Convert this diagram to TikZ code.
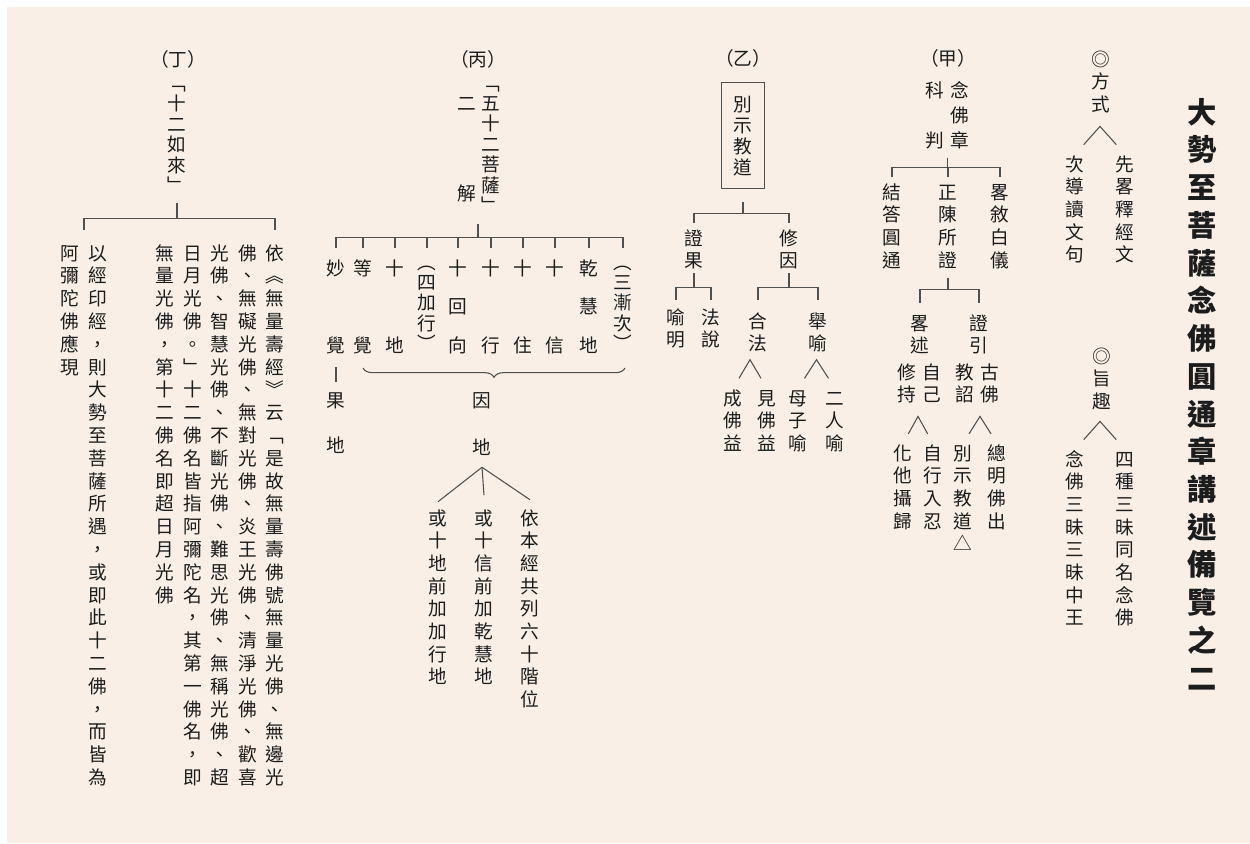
\documentclass[tikz,border=0pt]{standalone}
\usepackage{fontspec}
\newfontfamily\cjk{Noto Sans CJK TC}
\usepackage{tikz}
\usetikzlibrary{calc,decorations.pathreplacing}
\definecolor{papier}{RGB}{249,239,230}
\definecolor{encre}{RGB}{28,28,28}
\definecolor{trait}{RGB}{80,80,80}
% one vertical column of characters, ~ leaves an empty row
\def\vcolEnd{\vcolEnd}
\def\vcolA#1{\ifx#1\vcolEnd\else\hbox to1em{\hss\vrule height.88em depth.12em width0pt#1\hss}\expandafter\vcolA\fi}
\newcommand\vcol[2][17pt]{\vtop{\baselineskip=#1\lineskip=0pt\lineskiplimit=-\maxdimen\vcolA#2\vcolEnd}}
\tikzset{
  vtxt/.style={inner sep=0pt,anchor=base,yshift=-5.32pt,text=encre,font=\cjk\fontsize{14}{17}\selectfont},
  ttl/.style={inner sep=0pt,anchor=base,yshift=-8.36pt,text=encre,font=\cjk\bfseries\fontsize{22}{28}\selectfont},
  lnk/.style={draw=trait,line width=0.8pt},
  boxd/.style={vtxt,draw=trait,line width=0.8pt,inner xsep=9.1pt,inner ysep=9pt},
  brc/.style={lnk,decorate,decoration={brace,mirror,amplitude=7pt}}
}
\begin{document}
\begin{tikzpicture}[x=0.75pt,y=-0.75pt]
\fill[white] (0,0) rectangle (1250,843);
\fill[papier] (7,7) rectangle (1250,843);
\useasboundingbox (0,0) rectangle (1250,843);

% title
\node[ttl] (tl) at (1202,112) {\vcol[28.3pt]{大勢至菩薩念佛圓通章講述備覽之二}};

% fangshi / zhiqu
\node[vtxt] (fs) at (1101,59) {\vcol{◎方式}};
\node[vtxt] (cd) at (1075,164) {\vcol{次導讀文句}};
\node[vtxt] (xl) at (1125,164) {\vcol{先畧釋經文}};
\coordinate (fsp) at ($(cd.north)!0.5!(xl.north)+(0,-28)$);
\draw[lnk] ($(fsp)!0.65!(cd.north)$) -- (fsp) -- ($(fsp)!0.65!(xl.north)$);
\node[vtxt] (zq) at (1102,356) {\vcol{◎旨趣}};
\node[vtxt] (nf) at (1075,459) {\vcol{念佛三昧三昧中王}};
\node[vtxt] (sz) at (1125,459) {\vcol{四種三昧同名念佛}};
\coordinate (zqp) at ($(nf.north)!0.5!(sz.north)+(0,-28)$);
\draw[lnk] ($(zqp)!0.65!(nf.north)$) -- (zqp) -- ($(zqp)!0.65!(sz.north)$);

% jia
\node[vtxt] (jia) at (948,58) {（甲）};
\node[vtxt] (jk) at (947.5,90) {\vcol[18.75pt]{科~判}\hspace{4.7pt}\vcol[18.75pt]{念佛章}};
\node[vtxt] (jd) at (892,192) {\vcol{結答圓通}};
\node[vtxt] (zc) at (948,192) {\vcol{正陳所證}};
\node[vtxt] (lx) at (1000,192) {\vcol{畧敘白儀}};
\foreach \c in {jd,zc,lx}
  \draw[lnk,shorten >=4.3pt] ([yshift=-6pt]jk.south) -- ++(0,10) -| (\c.north);
\node[vtxt] (lu) at (920,323) {\vcol{畧述}};
\node[vtxt] (zy) at (979,323) {\vcol{證引}};
\foreach \c in {lu,zy}
  \draw[lnk,shorten >=8pt] ([yshift=-6pt]zc.south) -- ++(0,12) -| (\c.north);
\node[vtxt] (lus) at (919.5,372) {\vcol{修持}\hspace{4.7pt}\vcol{自己}};
\node[vtxt] (zys) at (977.5,372) {\vcol{教詔}\hspace{4.7pt}\vcol{古佛}};
\node[vtxt] (ht) at (903,453) {\vcol{化他攝歸}};
\node[vtxt] (zx) at (933,453) {\vcol{自行入忍}};
\node[vtxt] (bs) at (963,453) {\vcol{別示教道△}};
\node[vtxt] (zm) at (997,453) {\vcol{總明佛出}};
\coordinate (lup) at ($(ht.north)!0.5!(zx.north)+(0,-27)$);
\draw[lnk] ($(lup)!0.65!(ht.north)$) -- (lup) -- ($(lup)!0.65!(zx.north)$);
\coordinate (zyp) at ($(bs.north)!0.5!(zm.north)+(0,-27)$);
\draw[lnk] ($(zyp)!0.65!(bs.north)$) -- (zyp) -- ($(zyp)!0.65!(zm.north)$);

% yi
\node[vtxt] (yi) at (743,58) {（乙）};
\node[boxd] (bsjd) at (743,104) {\vcol[15.75pt]{別示教道}};
\node[vtxt] (zg) at (694,238) {\vcol{證果}};
\node[vtxt] (xy) at (789,238) {\vcol{修因}};
\foreach \c in {zg,xy}
  \draw[lnk,shorten >=4.3pt] ([yshift=-10pt]bsjd.south) -- ++(0,11) -| (\c.north);
\node[vtxt] (ym) at (676,317) {\vcol{喻明}};
\node[vtxt] (fsh) at (711,317) {\vcol{法說}};
\node[vtxt] (hf) at (758,321) {\vcol{合法}};
\node[vtxt] (jy) at (818,321) {\vcol{舉喻}};
\foreach \c in {ym,fsh}
  \draw[lnk,shorten >=5.8pt] ([yshift=-2.3pt]zg.south) -- ++(0,14) -| (\c.north);
\foreach \c in {hf,jy}
  \draw[lnk,shorten >=8.8pt] ([yshift=-2.3pt]xy.south) -- ++(0,14) -| (\c.north);
\node[vtxt] (cf) at (733,398) {\vcol{成佛益}};
\node[vtxt] (jf) at (767,398) {\vcol{見佛益}};
\node[vtxt] (mz) at (798,398) {\vcol{母子喻}};
\node[vtxt] (er) at (835,398) {\vcol{二人喻}};
\coordinate (hfp) at ($(cf.north)!0.5!(jf.north)+(0,-28.7)$);
\draw[lnk] ($(hfp)!0.65!(cf.north)$) -- (hfp) -- ($(hfp)!0.65!(jf.north)$);
\coordinate (jyp) at ($(mz.north)!0.5!(er.north)+(0,-28.7)$);
\draw[lnk] ($(jyp)!0.65!(mz.north)$) -- (jyp) -- ($(jyp)!0.65!(er.north)$);

% bing
\node[vtxt] (bing) at (478,59) {（丙）};
\node[vtxt] (wsr) at (491,83) {\vcol[15.3pt]{﹁五十二菩薩﹂}};
\node[vtxt] (ej) at (467,103) {\vcol{二~~~解}};
\coordinate (bst) at (bing |- wsr.south);
\node[vtxt] (mj) at (336,268) {\vcol[28.9pt]{妙~覺}};
\node[vtxt] (dj) at (363,268) {\vcol[28.9pt]{等~覺}};
\node[vtxt] (sd) at (395,268) {\vcol[28.9pt]{十~地}};
\node[vtxt] (sj) at (427,262) {\vcol[15.3pt]{︵四加行︶}};
\node[vtxt] (sh) at (458,268) {\vcol[28.9pt]{十回向}};
\node[vtxt] (sx) at (491,268) {\vcol[28.9pt]{十~行}};
\node[vtxt] (szh) at (523,268) {\vcol[28.9pt]{十~住}};
\node[vtxt] (sxn) at (555,268) {\vcol[28.9pt]{十~信}};
\node[vtxt] (ghd) at (589,268) {\vcol[28.9pt]{乾慧地}};
\node[vtxt] (sjc) at (623,262) {\vcol[15.3pt]{︵三漸次︶}};
\foreach \c/\s in {mj/8pt,dj/8pt,sd/8pt,sj/3.5pt,sh/8pt,sx/8pt,szh/8pt,sxn/8pt,ghd/8pt,sjc/3.5pt}
  \draw[lnk,shorten >=\s] ([yshift=-7pt]bst) -- ++(0,13) -| (\c.north);
\node[vtxt] (gd) at (336,400) {\vcol[33.75pt]{果地}};
\draw[lnk,shorten <=9.5pt,shorten >=6.5pt] (mj.south) -- (gd.north);
\coordinate (brl) at (363,368);
\coordinate (brr) at (625,368);
\draw[brc] (brl) -- (brr);
\node[vtxt] (yd) at (482,400) {\vcol[35.25pt]{因地}};
\coordinate (ydo) at ([yshift=-8pt]yd.south);
\node[vtxt] (hsd) at (438,518) {\vcol{或十地前加加行地}};
\node[vtxt] (hsx) at (484,518) {\vcol{或十信前加乾慧地}};
\node[vtxt] (ybj) at (530,518) {\vcol{依本經共列六十階位}};
\draw[lnk] (ydo) -- ([yshift=5pt]hsd.north);
\draw[lnk] (ydo) -- ([yshift=10pt]hsx.north);
\draw[lnk] (ydo) -- ([yshift=6.5pt]ybj.north);

% ding
\node[vtxt] (ding) at (178,59) {（丁）};
\node[vtxt] (srl) at (177,83) {\vcol[15.4pt]{﹁十二如來﹂}};
\node[vtxt] (yq1) at (275,253) {\vcol[17.1pt]{依︽無量壽經︾云﹁是故無量壽佛號無量光佛、無邊光}};
\node[vtxt] (yq2) at (248,253) {\vcol[17.1pt]{佛、無礙光佛、無對光佛、炎王光佛、清淨光佛、歡喜}};
\node[vtxt] (yq3) at (220,253) {\vcol[17.1pt]{光佛、智慧光佛、不斷光佛、難思光佛、無稱光佛、超}};
\node[vtxt] (yq4) at (193,253) {\vcol[17.1pt]{日月光佛。﹂十二佛名皆指阿彌陀名，其第一佛名，即}};
\node[vtxt] (yq5) at (165,253) {\vcol[17.1pt]{無量光佛，第十二佛名即超日月光佛}};
\node[vtxt] (yjy) at (84,253) {\vcol[17.1pt]{阿彌陀佛應現}\hspace{7pt}\vcol[17.1pt]{以經印經，則大勢至菩薩所遇，或即此十二佛，而皆為}};
\foreach \c in {yq1,yjy}
  \draw[lnk,shorten >=10.3pt] ([yshift=-6pt]srl.south) -- ++(0,15) -| (\c.north);
\end{tikzpicture}
\end{document}
